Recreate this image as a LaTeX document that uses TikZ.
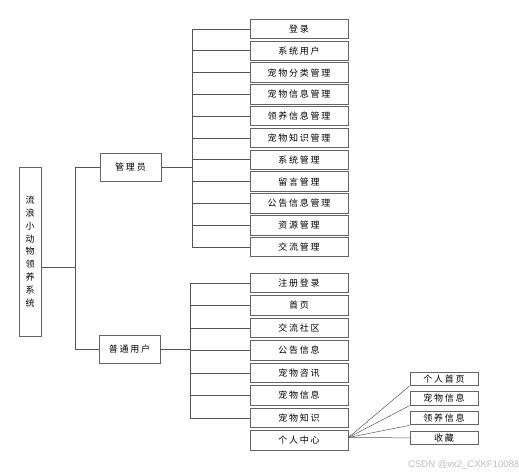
\documentclass[tikz,border=0pt]{standalone}
\usepackage{fontspec}
\newfontfamily\cjk[LetterSpace=20]{Noto Sans CJK SC}
\newfontfamily\marksans{Liberation Sans}
\usetikzlibrary{positioning}
\definecolor{BoxGray}{RGB}{100,100,100}
\definecolor{LineGray}{RGB}{85,85,85}
\definecolor{MarkGray}{RGB}{190,190,190}
\tikzset{
  rootbox/.style={draw=BoxGray,line width=0.9pt,minimum width=22pt,minimum height=169pt,inner sep=0pt,align=center,font=\fontsize{9}{12.8}\cjk},
  rolebox/.style={draw=BoxGray,line width=0.9pt,minimum width=61pt,minimum height=28pt,inner sep=0pt,font=\fontsize{9}{11}\cjk},
  funcbox/.style={draw=BoxGray,line width=0.9pt,minimum width=98pt,minimum height=19.5pt,inner sep=0pt,font=\fontsize{9}{11}\cjk},
  subbox/.style={draw=BoxGray,line width=0.9pt,minimum width=68pt,minimum height=13.5pt,inner sep=0pt,font=\fontsize{9}{11}\cjk},
  link/.style={draw=LineGray,line width=0.7pt},
  fanlink/.style={draw=LineGray,line width=0.5pt}
}
\begin{document}
\begin{tikzpicture}[x=1pt,y=1pt,node distance=1.4pt]
\useasboundingbox (0,0) rectangle (519,-476);
% system and roles
\node[rootbox] (sys) at (30,-251.5) {流\\浪\\小\\动\\物\\领\\养\\系\\统};
\node[rolebox] (admin) at (130.5,-167.5) {管理员};
\node[rolebox] (user) at (129.5,-349.5) {普通用户};
\coordinate (sysout) at ([yshift=-15.5pt]sys.east);
\coordinate (rbus) at (75,0);
\draw[link] (sysout) -- (sysout -| rbus);
\draw[link] (admin.west -| rbus) -- (user.west -| rbus);
\draw[link] (admin.west -| rbus) -- (admin.west);
\draw[link] (user.west -| rbus) -- (user.west);
% admin functions
\node[funcbox] (a1) at (299,-29) {登录};
\node[funcbox,below=of a1] (a2) {系统用户};
\node[funcbox,below=of a2] (a3) {宠物分类管理};
\node[funcbox,below=of a3] (a4) {宠物信息管理};
\node[funcbox,below=of a4] (a5) {领养信息管理};
\node[funcbox,below=of a5] (a6) {宠物知识管理};
\node[funcbox,below=of a6] (a7) {系统管理};
\node[funcbox,below=of a7] (a8) {留言管理};
\node[funcbox,below=of a8] (a9) {公告信息管理};
\node[funcbox,below=of a9] (a10) {资源管理};
\node[funcbox,below=of a10] (a11) {交流管理};
\coordinate (abus) at (192,0);
\draw[link] (admin.east) -- (admin.east -| abus);
\draw[link] (a1.west -| abus) -- (a11.west -| abus);
\foreach \i in {1,...,11}
  \draw[link] (a\i.west -| abus) -- (a\i.west);
% user functions
\node[funcbox] (u1) at (299,-283) {注册登录};
\node[funcbox,below=2.1pt of u1] (u2) {首页};
\node[funcbox,below=2.1pt of u2] (u3) {交流社区};
\node[funcbox,below=2.1pt of u3] (u4) {公告信息};
\node[funcbox,below=2.1pt of u4] (u5) {宠物咨讯};
\node[funcbox,below=2.1pt of u5] (u6) {宠物信息};
\node[funcbox,below=2.1pt of u6] (u7) {宠物知识};
\node[funcbox,below=2.1pt of u7] (u8) {个人中心};
\coordinate (ubus) at (190,0);
\draw[link] (user.east) -- (user.east -| ubus);
\draw[link] (u1.west -| ubus) -- (u7.west -| ubus);
\foreach \i in {1,...,7}
  \draw[link] (u\i.west -| ubus) -- (u\i.west);
% personal centre
\node[subbox] (c1) at (444,-378.75) {个人首页};
\node[subbox,below=5.3pt of c1] (c2) {宠物信息};
\node[subbox,below=5.3pt of c2] (c3) {领养信息};
\node[subbox,below=5.3pt of c3] (c4) {收藏};
\coordinate (pcout) at ([yshift=3pt]u8.east);
\draw[fanlink] (pcout) -- (c1.south west);
\draw[fanlink] (pcout) -- (c2.south west);
\draw[fanlink] (pcout) -- (c3.south west);
\draw[fanlink] (pcout) -- (c4.west);
\node[font=\fontsize{9.5}{10}\marksans,text=MarkGray,anchor=west,inner sep=0pt] (mark) at (408,-465) {CSDN @vx2\_CXKF10088};
\end{tikzpicture}
\end{document}
